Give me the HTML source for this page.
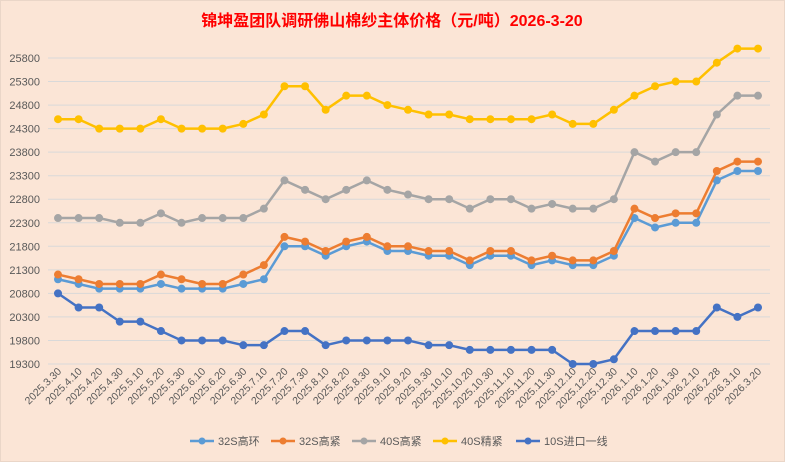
<!DOCTYPE html>
<html><head><meta charset="utf-8"><style>
body{margin:0;}
#wrap{width:785px;height:462px;background:#FBE5D6;position:relative;overflow:hidden;}
svg{position:absolute;left:0;top:0;}
text{font-family:"Liberation Sans","Noto Sans CJK SC",sans-serif;}
</style></head><body>
<div id="wrap">
<svg id="chart" width="785" height="462">
<rect x="0.5" y="0.5" width="784" height="461" fill="none" stroke="#d9c8bb" stroke-dasharray="1,1"/>
<text x="392" y="26" text-anchor="middle" font-size="16" font-weight="bold" fill="#FF0000">锦坤盈团队调研佛山棉纱主体价格（元/吨）2026-3-20</text>
</svg>
</div>
<script>
const categories=["2025.3.30","2025.4.10","2025.4.20","2025.4.30","2025.5.10","2025.5.20","2025.5.30","2025.6.10","2025.6.20","2025.6.30","2025.7.10","2025.7.20","2025.7.30","2025.8.10","2025.8.20","2025.8.30","2025.9.10","2025.9.20","2025.9.30","2025.10.10","2025.10.20","2025.10.30","2025.11.10","2025.11.20","2025.11.30","2025.12.10","2025.12.20","2025.12.30","2026.1.10","2026.1.20","2026.1.30","2026.2.10","2026.2.28","2026.3.10","2026.3.20"];
const yTicks=[19300,19800,20300,20800,21300,21800,22300,22800,23300,23800,24300,24800,25300,25800];
const seriesNames=["32S高环","32S高紧","40S高紧","40S精紧","10S进口一线"];
const s32Huan=[21100,21000,20900,20900,20900,21000,20900,20900,20900,21000,21100,21800,21800,21600,21800,21900,21700,21700,21600,21600,21400,21600,21600,21400,21500,21400,21400,21600,22400,22200,22300,22300,23200,23400,23400];
const s32Jin=[21200,21100,21000,21000,21000,21200,21100,21000,21000,21200,21400,22000,21900,21700,21900,22000,21800,21800,21700,21700,21500,21700,21700,21500,21600,21500,21500,21700,22600,22400,22500,22500,23400,23600,23600];
const s40Gao=[22400,22400,22400,22300,22300,22500,22300,22400,22400,22400,22600,23200,23000,22800,23000,23200,23000,22900,22800,22800,22600,22800,22800,22600,22700,22600,22600,22800,23800,23600,23800,23800,24600,25000,25000];
const s40Jing=[24500,24500,24300,24300,24300,24500,24300,24300,24300,24400,24600,25200,25200,24700,25000,25000,24800,24700,24600,24600,24500,24500,24500,24500,24600,24400,24400,24700,25000,25200,25300,25300,25700,26000,26000];
const s10Imp=[20800,20500,20500,20200,20200,20000,19800,19800,19800,19700,19700,20000,20000,19700,19800,19800,19800,19800,19700,19700,19600,19600,19600,19600,19600,19300,19300,19400,20000,20000,20000,20000,20500,20300,20500];
const colors=["#5B9BD5","#ED7D31","#A5A5A5","#FFC000","#4472C4"];

const NS="http://www.w3.org/2000/svg";
const svg=document.getElementById('chart');
const x0=58,x1=758,yTop=58,yBot=364,vTop=25800,vBot=19300;
const xs=i=>x0+(x1-x0)*i/(categories.length-1);
const ys=v=>yBot-(v-vBot)*(yBot-yTop)/(vTop-vBot);
function mk(t,a){const e=document.createElementNS(NS,t);for(const k in a)e.setAttribute(k,a[k]);svg.appendChild(e);return e;}
yTicks.forEach(v=>{
 const l=mk('line',{x1:48,x2:770,y1:ys(v),y2:ys(v),stroke:'#D9D9D9','stroke-width':1});
 
 
 const t=mk('text',{x:40,y:ys(v)+4,'text-anchor':'end','font-size':11,fill:'#595959'});
 t.textContent=v;
 
 
});
categories.forEach((c,i)=>{
 const x=xs(i)+4,y=372;
 const t=mk('text',{x:x,y:y,'text-anchor':'end','font-size':10.5,fill:'#595959',transform:`rotate(-45 ${x} ${y})`});
 t.textContent=c;
 
 
});
[s32Huan,s32Jin,s40Gao,s40Jing,s10Imp].forEach((data,si)=>{
 const p=mk('polyline',{points:data.map((v,i)=>xs(i)+','+ys(v)).join(' '),fill:'none',stroke:colors[si],'stroke-width':2.5,'stroke-linejoin':'round'});
 
 
 data.forEach((v,i)=>{
  const c=mk('circle',{cx:xs(i),cy:ys(v),r:4,fill:colors[si]});
  
  
 });
});
const legendX=[190,271,352,433,516];
seriesNames.forEach((n,i)=>{
 const lx=legendX[i],ly=441;
 const l=mk('line',{x1:lx,x2:lx+24,y1:ly,y2:ly,stroke:colors[i],'stroke-width':2.5});
 
 
 const c=mk('circle',{cx:lx+12,cy:ly,r:3.5,fill:colors[i]});
 
 
 const t=mk('text',{x:lx+28,y:ly+4,'font-size':11,fill:'#595959'});
 t.textContent=n;
 
 
});
</script>
</body></html>
